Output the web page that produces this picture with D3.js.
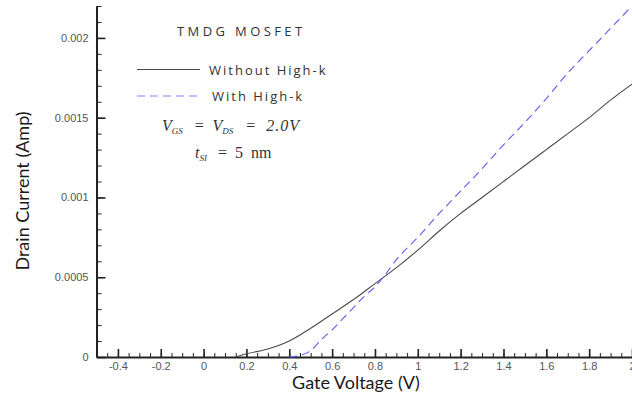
<!DOCTYPE html>
<html>
<head>
<meta charset="utf-8">
<script src="https://cdn.jsdelivr.net/npm/d3@7"></script>
<style>
  html, body { margin: 0; padding: 0; background: #fff; }
  svg { display: block; }
  .tick text { font-family: "Liberation Sans", Arial, sans-serif; font-size: 11px; fill: #555; }
</style>
</head>
<body>
<svg id="chart" width="632" height="398"></svg>
<script>
// ----------- DATA -----------
const vgWithout = [0.15, 0.2, 0.3, 0.4, 0.5, 0.6, 0.7, 0.8, 0.9, 1.0, 1.1, 1.2, 1.3, 1.4, 1.5, 1.6, 1.7, 1.8, 1.9, 2.0];
const idWithout = [0, 0.00002, 0.00005, 0.0001, 0.00018, 0.00027, 0.00036, 0.00046, 0.00056, 0.00067, 0.00079, 0.0009, 0.001, 0.0011, 0.0012, 0.0013, 0.0014, 0.0015, 0.00161, 0.00171];

const vgWith = [0.4, 0.45, 0.5, 0.55, 0.6, 0.65, 0.7, 0.75, 0.8, 0.85, 0.9, 1.0, 1.1, 1.2, 1.3, 1.4, 1.5, 1.6, 1.7, 1.8, 1.9, 2.0];
const idWith = [0, 0.00001, 0.00004, 0.00011, 0.00017, 0.00024, 0.00031, 0.00038, 0.00044, 0.00052, 0.00061, 0.00075, 0.0009, 0.00104, 0.00118, 0.00133, 0.00147, 0.00162, 0.00178, 0.00192, 0.00206, 0.0022];

const xTicks = [-0.4, -0.2, 0, 0.2, 0.4, 0.6, 0.8, 1, 1.2, 1.4, 1.6, 1.8, 2];
const yTicks = [0, 0.0005, 0.001, 0.0015, 0.002];
const seriesNames = ["Without High-k", "With High-k"];

// ----------- CHART -----------
const svg = d3.select("#chart");
const plotLeft = 96.5, plotRight = 632, plotTop = 6, plotBottom = 357;

const x = d3.scaleLinear().domain([-0.5, 2.0]).range([plotLeft, plotRight]);
const y = d3.scaleLinear().domain([0, 0.0022]).range([plotBottom, plotTop]);

// minor ticks first
svg.append("g")
  .attr("transform", `translate(0,${plotBottom})`)
  .call(d3.axisBottom(x).tickValues(d3.range(-0.45, 2.001, 0.05)).tickSizeInner(-4).tickSizeOuter(0).tickFormat(""))
  .call(g => g.select(".domain").remove())
  .call(g => g.selectAll("line").attr("stroke", "#222"));

svg.append("g")
  .attr("transform", `translate(${plotLeft},0)`)
  .call(d3.axisLeft(y).tickValues(d3.range(0.0001, 0.00221, 0.0001)).tickSizeInner(-5).tickSizeOuter(0).tickFormat(""))
  .call(g => g.select(".domain").remove())
  .call(g => g.selectAll("line").attr("stroke", "#222"));

// major ticks
svg.append("g")
  .attr("transform", `translate(0,${plotBottom})`)
  .call(d3.axisBottom(x).tickValues(xTicks).tickSizeInner(-8).tickSizeOuter(0).tickPadding(5)
    .tickFormat(d => d === 0 ? "0" : String(d)))
  .call(g => g.select(".domain").attr("stroke", "#222").attr("stroke-width", 2))
  .call(g => g.selectAll(".tick line").attr("stroke", "#222").attr("stroke-width", 1.6));

svg.append("g")
  .attr("transform", `translate(${plotLeft},0)`)
  .call(d3.axisLeft(y).tickValues(yTicks).tickSizeInner(-9).tickSizeOuter(0).tickPadding(8)
    .tickFormat(d => d === 0 ? "0" : String(+d.toFixed(4))))
  .call(g => g.select(".domain").attr("stroke", "#222").attr("stroke-width", 2))
  .call(g => g.selectAll(".tick line").attr("stroke", "#222").attr("stroke-width", 1.6));

// curves
const line = d3.line().x(d => x(d[0])).y(d => y(d[1])).curve(d3.curveMonotoneX);

svg.append("path")
  .datum(d3.zip(vgWithout, idWithout))
  .attr("d", line)
  .attr("fill", "none")
  .attr("stroke", "#4a4a4a")
  .attr("stroke-width", 1.1);

svg.append("path")
  .datum(d3.zip(vgWith, idWith))
  .attr("d", line)
  .attr("fill", "none")
  .attr("stroke", "#5c5cf0")
  .attr("stroke-width", 1.1)
  .attr("stroke-dasharray", "8,5");

// axis titles
svg.append("text")
  .attr("x", 356).attr("y", 389)
  .attr("text-anchor", "middle")
  .style("font-family", "Lato, 'Open Sans', sans-serif")
  .style("font-size", "18px")
  .attr("fill", "#1a1a1a")
  .text("Gate Voltage (V)");

svg.append("text")
  .attr("transform", "translate(29,191) rotate(-90)")
  .attr("text-anchor", "middle")
  .style("font-family", "Lato, 'Open Sans', sans-serif")
  .style("font-size", "18px")
  .attr("fill", "#1a1a1a")
  .text("Drain Current (Amp)");

// legend
const legFont = "'Open Sans', sans-serif";
svg.append("text")
  .attr("x", 177).attr("y", 36)
  .style("font-family", legFont).style("font-size", "13px").style("letter-spacing", "3.4px")
  .attr("fill", "#333")
  .text("TMDG MOSFET");

const legY = [69.5, 96];
const legStyles = [
  { stroke: "#4a4a4a", dash: null, tx: 209 },
  { stroke: "#8080f8", dash: "8,5", tx: 212 }
];
seriesNames.forEach((name, i) => {
  svg.append("line")
    .attr("x1", 137).attr("x2", 200).attr("y1", legY[i]).attr("y2", legY[i])
    .attr("stroke", legStyles[i].stroke).attr("stroke-width", 1.2)
    .attr("stroke-dasharray", legStyles[i].dash);
  svg.append("text")
    .attr("x", legStyles[i].tx).attr("y", legY[i] + 5)
    .style("font-family", legFont).style("font-size", "13px").style("letter-spacing", "2px")
    .attr("fill", "#333")
    .text(name);
});

// annotations
const ann = svg.append("text")
  .attr("x", 162).attr("y", 131)
  .style("font-family", "'Liberation Serif', 'DejaVu Serif', serif")
  .style("font-size", "16px").style("font-style", "italic").style("word-spacing", "4px")
  .attr("fill", "#333");
ann.append("tspan").text("V");
ann.append("tspan").attr("dy", 3).style("font-size", "9px").text("GS");
ann.append("tspan").attr("dy", -3).attr("dx", 3).text(" = V");
ann.append("tspan").attr("dy", 3).style("font-size", "9px").text("DS");
ann.append("tspan").attr("dy", -3).attr("dx", 3).style("letter-spacing", "1px").text(" = 2.0V");

const ann2 = svg.append("text")
  .attr("x", 195).attr("y", 158)
  .style("font-family", "'Liberation Serif', 'DejaVu Serif', serif")
  .style("font-size", "16px").style("word-spacing", "4px")
  .attr("fill", "#333");
ann2.append("tspan").style("font-style", "italic").text("t");
ann2.append("tspan").attr("dy", 3).style("font-size", "9px").style("font-style", "italic").text("SI");
ann2.append("tspan").attr("dy", -3).attr("dx", 3).text(" = 5 nm");
</script>
</body>
</html>
